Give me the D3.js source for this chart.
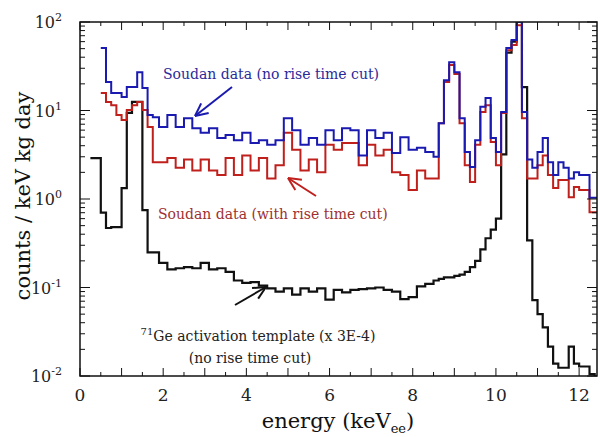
<!DOCTYPE html>
<html>
<head>
<meta charset="utf-8">
<script src="https://cdn.jsdelivr.net/npm/d3@7"></script>
<style>
  body { margin: 0; background: #fff; }
  text { font-family: "DejaVu Serif", "Liberation Serif", serif; }
</style>
</head>
<body>
<div class="canvas"></div>
<script>
// histogram lower bin edges (keV): fine bins at low / high energy, coarser read in the middle
const binEdges = [
  ...d3.range(13).map(i => 0.25 + 0.125 * i),
  ...d3.range(33).map(i => 1.9 + 0.2 * i),
  ...d3.range(32).map(i => 8.5 + 0.125 * i)
];
const lastEdge = 12.5;

const geTemplate = [
  2.9, 2.9, 0.7, 0.47, 0.48, 0.48, 1.33, 9.4, 12.5, 12.5, 0.75, 0.25, 0.25,
  0.19, 0.16, 0.165, 0.17, 0.165, 0.19, 0.16, 0.165, 0.15, 0.12, 0.113, 0.115, 0.105,
  0.098, 0.09, 0.098, 0.083, 0.098, 0.09, 0.098, 0.073, 0.094, 0.088, 0.094, 0.096,
  0.098, 0.1, 0.094, 0.09, 0.074, 0.078, 0.103, 0.11,
  0.12, 0.125, 0.13, 0.13, 0.135, 0.14, 0.15, 0.17, 0.2, 0.27, 0.36, 0.45, 0.6, 3.2,
  45, 60, 100, 18.4, 0.34, 0.072, 0.05, 0.0355, 0.0215, 0.0138, 0.0124, 0.0124,
  0.0215, 0.0138, 0.0128, 0.0128, 0.0105, 0.008];

const noCut = [
  null, null, 51, 21, 15.8, 15.8, 14.2, 18.4, 18.4, 27, 18, 8.9, 8.4,
  6.5, 8.9, 6.5, 8.2, 6.3, 5.6, 6.3, 4.9, 5.3, 4.6, 5.6, 4.3, 4.6, 4.1, 4.6, 8.2, 6.0,
  4.1, 4.9, 4.1, 6.0, 4.6, 6.3, 6.0, 3.1, 6.0, 4.9, 5.6, 3.3, 5.0, 3.6, 3.8, 3.4,
  3.0, 7.2, 22, 35, 27, 8.2, 3.4, 2.3, 4.6, 11, 13.8, 4.9, 3.4, 9.6, 51, 62.6, 100,
  9.6, 2.8, 2.25, 3.4, 4.9, 2.6, 1.87, 2.6, 2.25, 1.7, 2.0, 1.87, 1.87, 1.03, 1.03];

const withCut = [
  null, null, 15.8, 12.5, 11.5, 8.9, 7.8, 10.1, 11.5, 12.5, 10.1, 6.5, 2.6,
  2.6, 2.9, 2.25, 2.8, 2.1, 2.8, 2.1, 1.87, 2.9, 1.87, 3.1, 2.1, 2.9, 1.7, 2.4, 5.6,
  3.6, 2.1, 2.8, 2.0, 4.1, 3.6, 4.3, 4.3, 2.4, 4.1, 3.1, 3.6, 2.0, 1.87, 1.26, 2.1, 1.7,
  1.7, 7.2, 21, 32.7, 25.8, 7.2, 2.4, 1.56, 4.1, 9.6, 11.5, 4.4, 2.4, 9.4, 48, 55, 92,
  8.2, 1.7, 1.7, 2.4, 3.1, 1.87, 1.33, 1.64, 1.64, 1.05, 1.37, 1.26, 1.26, 0.71, 0.71];

const xTicks = [0, 2, 4, 6, 8, 10, 12];
const yDecades = [-2, -1, 0, 1, 2];

const W = 600, H = 437;
const mLeft = 80, mRight = 597, mTop = 22, mBottom = 376;

const svg = d3.select(".canvas").append("svg").attr("width", W).attr("height", H);

const x = d3.scaleLinear().domain([0, 12.43]).range([mLeft, mRight]);
const y = d3.scaleLog().domain([0.01, 100]).range([mBottom, mTop]);

svg.append("clipPath").attr("id", "clip")
  .append("rect").attr("x", mLeft).attr("y", mTop)
  .attr("width", mRight - mLeft).attr("height", mBottom - mTop);

function toSteps(vals) {
  const pts = vals.map((v, i) => [binEdges[i], v]);
  pts.push([lastEdge, vals[vals.length - 1]]);
  return pts;
}
const line = d3.line()
  .defined(d => d[1] != null)
  .x(d => x(d[0])).y(d => y(Math.max(d[1], 0.005)))
  .curve(d3.curveStepAfter);

const plot = svg.append("g").attr("clip-path", "url(#clip)");
plot.append("path").attr("d", line(toSteps(geTemplate)))
  .attr("fill", "none").attr("stroke", "#111").attr("stroke-width", 2.2);
plot.append("path").attr("d", line(toSteps(withCut)))
  .attr("fill", "none").attr("stroke", "#c0201c").attr("stroke-width", 2);
plot.append("path").attr("d", line(toSteps(noCut)))
  .attr("fill", "none").attr("stroke", "#1a1ab0").attr("stroke-width", 2);

// frame
svg.append("rect").attr("x", mLeft).attr("y", mTop).attr("width", mRight - mLeft)
  .attr("height", mBottom - mTop).attr("fill", "none").attr("stroke", "#111").attr("stroke-width", 1.5);

const ticks = svg.append("g").attr("stroke", "#111").attr("stroke-width", 1);
// x ticks, major every 1 keV, minor every 0.5
d3.range(0, 12.5, 0.5).forEach(v => {
  const len = (v % 1 === 0) ? 8 : 4;
  ticks.append("line").attr("x1", x(v)).attr("x2", x(v)).attr("y1", mBottom).attr("y2", mBottom - len);
  ticks.append("line").attr("x1", x(v)).attr("x2", x(v)).attr("y1", mTop).attr("y2", mTop + len);
});
// y ticks
yDecades.forEach(e => {
  const base = Math.pow(10, e);
  ticks.append("line").attr("x1", mLeft).attr("x2", mLeft + 10).attr("y1", y(base)).attr("y2", y(base));
  ticks.append("line").attr("x1", mRight).attr("x2", mRight - 10).attr("y1", y(base)).attr("y2", y(base));
  if (e < 2) d3.range(2, 10).forEach(m => {
    const yy = y(base * m);
    ticks.append("line").attr("x1", mLeft).attr("x2", mLeft + 5).attr("y1", yy).attr("y2", yy);
    ticks.append("line").attr("x1", mRight).attr("x2", mRight - 5).attr("y1", yy).attr("y2", yy);
  });
});

svg.selectAll("text.xt").data(xTicks).enter().append("text")
  .attr("x", d => x(d)).attr("y", 401).attr("text-anchor", "middle")
  .attr("font-size", 17).attr("fill", "#222").text(d => d);

const yl = svg.selectAll("text.yt").data(yDecades).enter().append("text")
  .attr("x", 62).attr("y", d => y(Math.pow(10, d)) + 6).attr("text-anchor", "end")
  .attr("font-size", 16).attr("fill", "#222");
yl.append("tspan").text("10");
yl.append("tspan").attr("dy", -7).attr("font-size", 11).text(d => d);

svg.append("text").attr("transform", `translate(30,${(mTop + mBottom) / 2 - 3}) rotate(-90)`)
  .attr("text-anchor", "middle").attr("font-size", 21).attr("fill", "#111")
  .text("counts / keV kg day");

const xl = svg.append("text").attr("x", 338).attr("y", 428).attr("text-anchor", "middle")
  .attr("font-size", 21).attr("fill", "#111");
xl.append("tspan").text("energy (keV");
xl.append("tspan").attr("dy", 5).attr("font-size", 13).text("ee");
xl.append("tspan").attr("dy", -5).text(")");

// annotations
function arrow(x1, y1, x2, y2, color) {
  const a = Math.atan2(y2 - y1, x2 - x1);
  const g = svg.append("g").attr("stroke", color).attr("stroke-width", 2).attr("fill", "none");
  g.append("line").attr("x1", x1).attr("y1", y1).attr("x2", x2).attr("y2", y2);
  [-0.45, 0.45].forEach(d => {
    g.append("line").attr("x1", x2).attr("y1", y2)
      .attr("x2", x2 - 14 * Math.cos(a + d)).attr("y2", y2 - 14 * Math.sin(a + d));
  });
}
svg.append("text").attr("x", 163).attr("y", 79).attr("font-size", 14).attr("fill", "#2a2a9a")
  .text("Soudan data (no rise time cut)");
arrow(232, 87, 195, 116, "#1a1ab0");
svg.append("text").attr("x", 158).attr("y", 219).attr("font-size", 14).attr("fill", "#a03030")
  .text("Soudan data (with rise time cut)");
arrow(316, 196, 288, 178, "#c0201c");
arrow(235, 305, 266, 287, "#111");
const ge = svg.append("text").attr("x", 258).attr("y", 341).attr("text-anchor", "middle")
  .attr("font-size", 14).attr("fill", "#222");
ge.append("tspan").attr("dy", -6).attr("font-size", 10).text("71");
ge.append("tspan").attr("dy", 6).text("Ge activation template (x 3E-4)");
svg.append("text").attr("x", 250).attr("y", 363).attr("text-anchor", "middle")
  .attr("font-size", 14).attr("fill", "#222").text("(no rise time cut)");
</script>
</body>
</html>
